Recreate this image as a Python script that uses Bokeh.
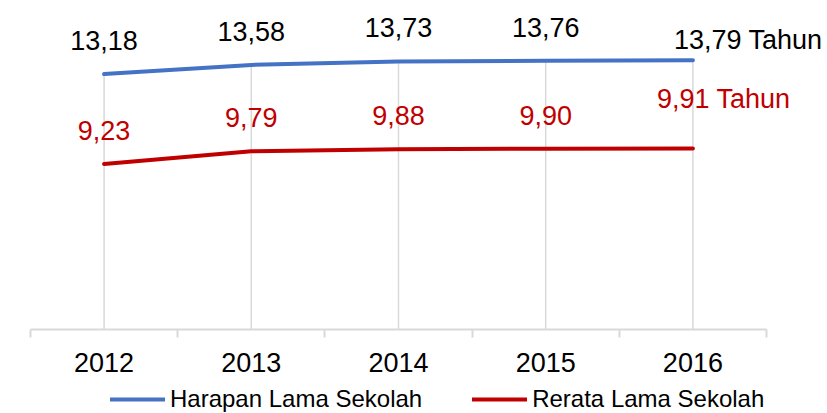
from bokeh.plotting import figure
from bokeh.models import (ColumnDataSource, LabelSet, Label, Legend, LegendItem,
                          FixedTicker, Range1d)
from bokeh.core.properties import value
from bokeh.embed import file_html
from bokeh.resources import INLINE

# ---- data ----
years = [2012, 2013, 2014, 2015, 2016]
tick_labels = ["2012", "2013", "2014", "2015", "2016"]
harapan = [13.18, 13.58, 13.73, 13.76, 13.79]
rerata = [9.23, 9.79, 9.88, 9.90, 9.91]
series_names = ["Harapan Lama Sekolah", "Rerata Lama Sekolah"]
unit = "Tahun"

# ---- style / layout ----
BLUE = "#4472C4"
RED = "#C00000"
GRID = "#D9D9D9"
FONT = "Liberation Sans"
W, H = 827, 413
AX_LEFT_PX, AX_RIGHT_PX, AX_Y_PX = 30, 766, 329   # axis line placement
Y_AXIS_VAL = 1.96                                  # value at the axis line
PX_PER_UNIT = 22.77

x_lo, x_hi = years[0] - 0.5, years[-1] + 0.5
px_per_year = (AX_RIGHT_PX - AX_LEFT_PX) / (x_hi - x_lo)
x_start = x_lo - AX_LEFT_PX / px_per_year
x_end = x_hi + (W - AX_RIGHT_PX) / px_per_year
y_start = Y_AXIS_VAL - (H - AX_Y_PX) / PX_PER_UNIT
y_end = Y_AXIS_VAL + AX_Y_PX / PX_PER_UNIT


def fmt(v):
    return f"{v:.2f}".replace(".", ",")


p = figure(width=W, height=H, output_backend="svg", toolbar_location=None,
           x_range=Range1d(x_start, x_end), y_range=Range1d(y_start, y_end),
           y_axis_location=None,
           min_border_left=0, min_border_right=0,
           min_border_top=0, min_border_bottom=0,
           outline_line_color=None, background_fill_color="white",
           border_fill_color="white")
p.xgrid.visible = False
p.ygrid.visible = False

ax = p.xaxis[0]
ax.fixed_location = Y_AXIS_VAL
ax.bounds = (x_lo, x_hi)
ax.ticker = FixedTicker(ticks=years,
                        minor_ticks=[y - 0.5 for y in years] + [years[-1] + 0.5])
ax.major_label_overrides = {y: t for y, t in zip(years, tick_labels)}
ax.axis_line_color = GRID
ax.axis_line_width = 2
ax.major_tick_out = 0
ax.major_tick_in = 0
ax.minor_tick_out = 8
ax.minor_tick_in = 0
ax.minor_tick_line_color = GRID
ax.minor_tick_line_width = 2
ax.major_label_standoff = 15
ax.major_label_text_font = FONT
ax.major_label_text_font_size = "27px"
ax.major_label_text_color = "black"

# drop lines from axis up to highest series
tops = [max(a, b) for a, b in zip(harapan, rerata)]
p.segment(x0=years, y0=[Y_AXIS_VAL] * len(years), x1=years, y1=tops,
          line_color=GRID, line_width=1.5)

r1 = p.line(years, harapan, line_color=BLUE, line_width=4,
            line_cap="round", line_join="round")
r2 = p.line(years, rerata, line_color=RED, line_width=4,
            line_cap="round", line_join="round")

set_style = dict(text_font=value(FONT), text_font_size="27px",
                 text_baseline="alphabetic")
lab_style = dict(text_font=FONT, text_font_size="27px",
                 text_baseline="alphabetic")

src1 = ColumnDataSource(dict(x=years[:-1], y=harapan[:-1],
                             t=[fmt(v) for v in harapan[:-1]]))
src2 = ColumnDataSource(dict(x=years[:-1], y=rerata[:-1],
                             t=[fmt(v) for v in rerata[:-1]]))
p.add_layout(LabelSet(x="x", y="y", text="t", source=src1, y_offset=24,
                      text_align="center", text_color="black", **set_style))
p.add_layout(LabelSet(x="x", y="y", text="t", source=src2, y_offset=24,
                      text_align="center", text_color=RED, **set_style))
p.add_layout(Label(x=years[-1], y=harapan[-1], text=f"{fmt(harapan[-1])} {unit}",
                   x_offset=-19, y_offset=20, text_align="left",
                   text_color="black", **lab_style))
p.add_layout(Label(x=years[-1], y=rerata[-1], text=f"{fmt(rerata[-1])} {unit}",
                   x_offset=-36, y_offset=49, text_align="left",
                   text_color=RED, **lab_style))

legend = Legend(items=[LegendItem(label=series_names[0], renderers=[r1]),
                       LegendItem(label=series_names[1], renderers=[r2])],
                location=(110, 0), orientation="horizontal",
                glyph_width=55, glyph_height=20, label_standoff=5, spacing=50,
                padding=0, margin=0, border_line_alpha=0,
                background_fill_alpha=0,
                label_text_font=FONT, label_text_font_size="24px",
                label_text_color="black")
p.add_layout(legend)

open("out.html", "w").write(file_html(p, INLINE))
